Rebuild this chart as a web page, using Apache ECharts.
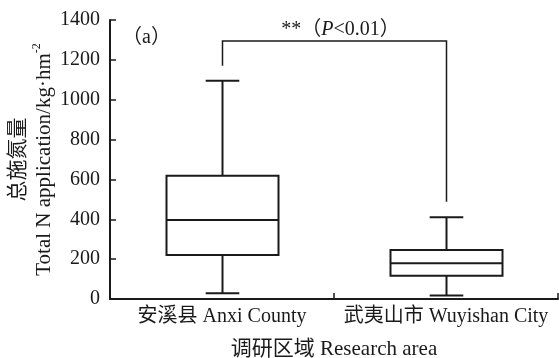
<!DOCTYPE html>
<html>
<head>
<meta charset="utf-8">
<script src="https://cdn.jsdelivr.net/npm/echarts@6/dist/echarts.min.js"></script>
<style>
html,body{margin:0;padding:0;background:#fff;}
#c{width:559px;height:358px;}
</style>
</head>
<body>
<div id="c"></div>
<script>
// ---- data ----
const categories = ['安溪县 Anxi County', '武夷山市 Wuyishan City'];
const lowWhisker = [29, 17];
const q1 = [221, 117];
const median = [396, 179];
const q3 = [619, 246];
const highWhisker = [1095, 410];
const yTicks = [0, 200, 400, 600, 800, 1000, 1200, 1400];
// significance bracket: left leg bottom, right leg bottom, top
const sigLeftBottom = 1171;
const sigRightBottom = 488;
const sigTop = 1295;
const sigLabel = '**（{i|P}<0.01）';
const panelLabel = '（a）';

const FONT = "'Liberation Serif', 'Noto Sans CJK SC', serif";
const INK = '#1a1a1a';

const boxData = categories.map((c, i) => [i, lowWhisker[i], q1[i], median[i], q3[i], highWhisker[i]]);

const chart = echarts.init(document.getElementById('c'));
chart.setOption({
  animation: false,
  backgroundColor: '#fff',
  textStyle: { fontFamily: FONT, color: INK },
  grid: { left: 110, right: 1, top: 20, bottom: 59, containLabel: false, outerBoundsMode: 'none' },
  xAxis: {
    type: 'category',
    data: categories,
    boundaryGap: true,
    axisLine: { show: true, lineStyle: { color: INK, width: 2 } },
    axisTick: { show: true, inside: true, length: 6, lineStyle: { color: INK, width: 1.5 } },
    axisLabel: { fontSize: 20, fontFamily: FONT, color: INK, margin: 8, interval: 0, hideOverlap: false },
    name: '调研区域 Research area',
    nameLocation: 'middle',
    nameGap: 40,
    nameMoveOverlap: false,
    nameTextStyle: { fontSize: 21, fontFamily: FONT, color: INK },
    splitLine: { show: false }
  },
  yAxis: {
    type: 'value',
    min: yTicks[0],
    max: yTicks[yTicks.length - 1],
    interval: yTicks[1] - yTicks[0],
    axisLine: { show: true, lineStyle: { color: INK, width: 2 } },
    axisTick: { show: true, inside: true, length: 6, lineStyle: { color: INK, width: 1.5 } },
    axisLabel: { fontSize: 20, fontFamily: FONT, color: INK, margin: 10, formatter: v => String(v) },
    splitLine: { show: false },
    name: '{a|总施氮量}\n{a|Total N application/kg·hm}{s|-2}',
    nameLocation: 'middle',
    nameGap: 53,
    nameMoveOverlap: false,
    nameRotate: 90,
    nameTextStyle: {
      fontFamily: FONT, color: INK, fontSize: 21, lineHeight: 26,
      rich: {
        a: { fontSize: 21, fontFamily: FONT, color: INK, lineHeight: 26 },
        s: { fontSize: 12, fontFamily: FONT, color: INK, lineHeight: 26, verticalAlign: 'top', padding: [0, 0, 8, 0] }
      }
    }
  },
  graphic: [{
    type: 'text', left: 122, top: 28,
    style: { text: panelLabel, font: '20px ' + FONT, fill: INK }
  }],
  series: [{
    type: 'custom',
    data: boxData,
    encode: { x: 0, y: [1, 2, 3, 4, 5] },
    renderItem: function (params, api) {
      const x = api.value(0);
      const lo = api.coord([x, api.value(1)]);
      const qa = api.coord([x, api.value(2)]);
      const md = api.coord([x, api.value(3)]);
      const qb = api.coord([x, api.value(4)]);
      const hi = api.coord([x, api.value(5)]);
      const bw = api.size([1, 0])[0] * 0.5;
      const cw = bw * 0.3;
      const cx = Math.round(lo[0]) + 0.5;
      const st = { stroke: INK, lineWidth: 2, fill: null };
      return {
        type: 'group',
        children: [
          { type: 'rect', shape: { x: cx - bw / 2, y: qb[1], width: bw, height: qa[1] - qb[1] }, style: { stroke: INK, lineWidth: 2, fill: 'transparent' } },
          { type: 'line', shape: { x1: cx - bw / 2, y1: md[1], x2: cx + bw / 2, y2: md[1] }, style: st },
          { type: 'line', shape: { x1: cx, y1: qb[1], x2: cx, y2: hi[1] }, style: st },
          { type: 'line', shape: { x1: cx, y1: qa[1], x2: cx, y2: lo[1] }, style: st },
          { type: 'line', shape: { x1: cx - cw / 2, y1: hi[1], x2: cx + cw / 2, y2: hi[1] }, style: st },
          { type: 'line', shape: { x1: cx - cw / 2, y1: lo[1], x2: cx + cw / 2, y2: lo[1] }, style: st }
        ]
      };
    },
    z: 5
  }, {
    type: 'custom',
    data: [[0, 1, sigLeftBottom, sigRightBottom, sigTop]],
    encode: { x: [0, 1], y: [2, 3, 4] },
    renderItem: function (params, api) {
      const a = api.coord([api.value(0), api.value(2)]);
      const b = api.coord([api.value(1), api.value(3)]);
      const t = api.coord([api.value(0), api.value(4)]);
      const xa = Math.round(a[0]) + 0.5, xb = Math.round(b[0]) + 0.5;
      return {
        type: 'group',
        children: [
          { type: 'polyline', shape: { points: [[xa, a[1]], [xa, t[1]], [xb, t[1]], [xb, b[1]]] }, style: { stroke: INK, lineWidth: 1.5, fill: null } },
          { type: 'text', x: (xa + xb) / 2 + 6, y: t[1] - 1,
            style: { text: sigLabel, font: '20px ' + FONT, fill: INK, align: 'center', verticalAlign: 'bottom',
              rich: { i: { fontStyle: 'italic', fontSize: 20, fontFamily: FONT, fill: INK } } } }
        ]
      };
    },
    z: 5
  }]
});
</script>
</body>
</html>
